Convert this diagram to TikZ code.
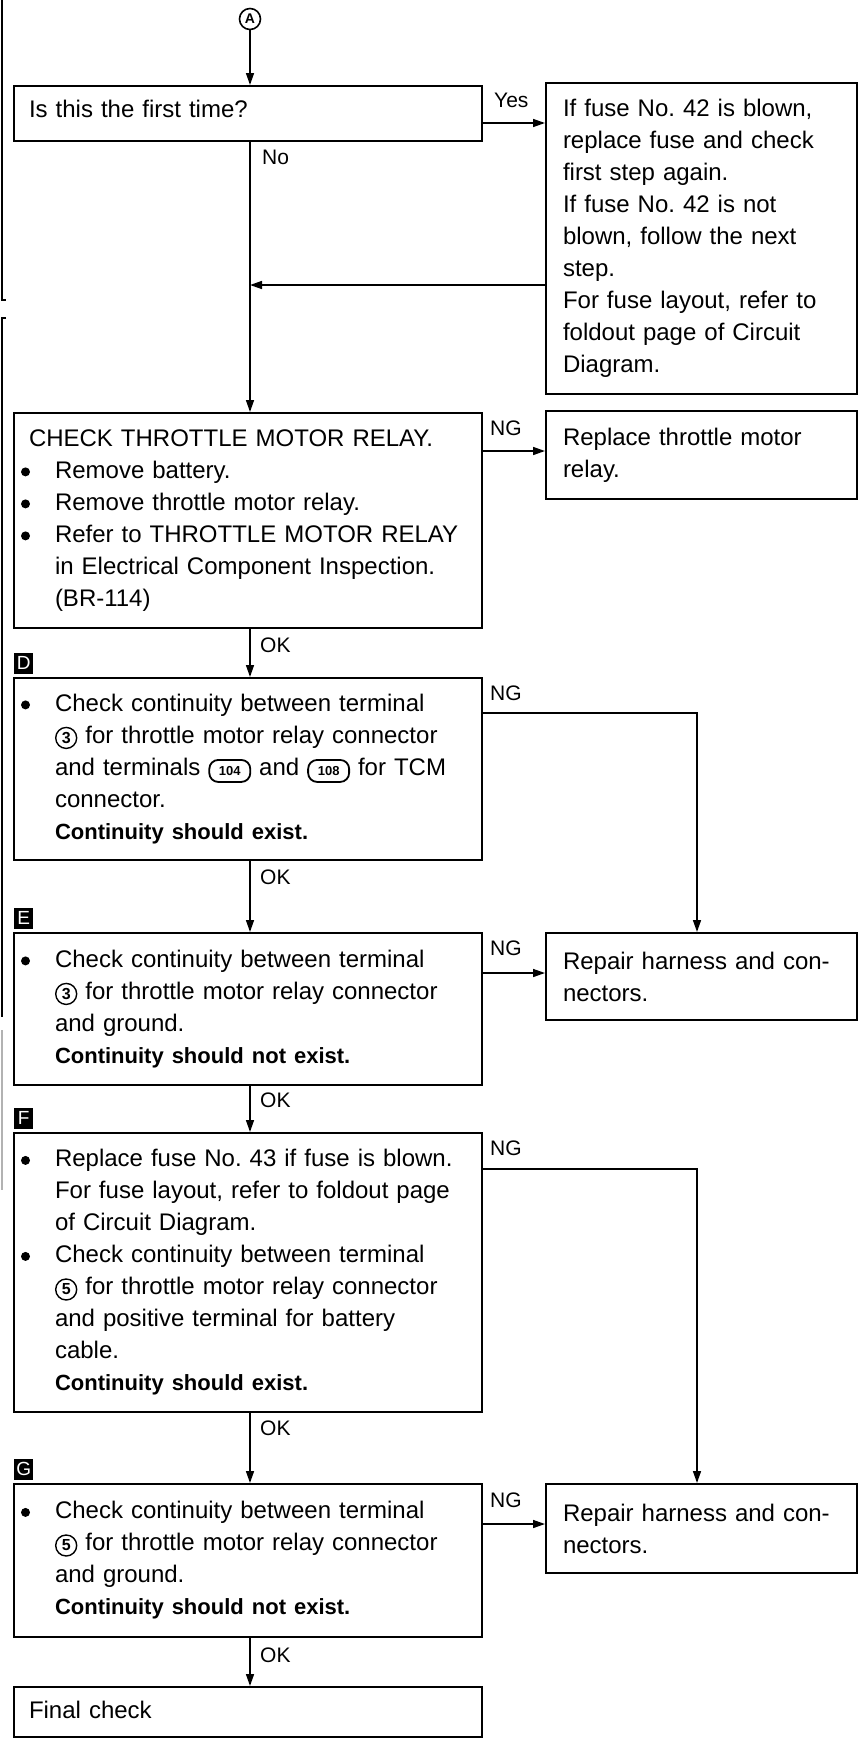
\documentclass[tikz,border=0pt]{standalone}
\usepackage{fontspec}
\setmainfont{Liberation Sans}
\usetikzlibrary{arrows.meta,calc}
\frenchspacing
\newcommand{\bul}{\hspace*{-8pt}\makebox[34pt][l]{\tikz[baseline=-6.5pt]\fill (4.5pt,0) circle (4.5pt);}}
\newcommand{\ind}{\hspace*{26pt}}
\newcommand{\bt}[1]{{\fontsize{22}{32}\selectfont\bfseries #1}}
\newcommand{\cn}[1]{\tikz[baseline=(cnn.base)]\node(cnn)[circle,draw,line width=1.4pt,inner sep=0pt,minimum size=21pt,font=\fontsize{16}{16}\selectfont\bfseries]{#1};}
\newcommand{\tn}[1]{\tikz[baseline=(tnn.base)]\node(tnn)[rectangle,rounded corners=9pt,draw,line width=1.8pt,inner xsep=2pt,inner ysep=0pt,minimum height=22pt,minimum width=41pt,font=\fontsize{13}{13}\selectfont\bfseries]{#1};}
\begin{document}
\begin{tikzpicture}[x=1pt,y=-1pt,
  box/.style={draw,line width=2pt,rectangle,inner xsep=15pt,inner ysep=0pt,align=left,
    font=\fontsize{24}{32}\selectfont,anchor=north west,text width=438pt},
  rbox/.style={draw,line width=2pt,rectangle,inner xsep=17pt,inner ysep=0pt,align=left,
    font=\fontsize{24}{32}\selectfont,anchor=north west,text width=277pt},
  arr/.style={line width=1.5pt,-{Triangle[length=12pt,width=8pt]}},
  lbl/.style={font=\fontsize{21}{21}\selectfont,anchor=west,inner sep=0pt},
  tag/.style={fill=black,text=white,font=\fontsize{19}{19}\selectfont,inner sep=0pt,
    minimum width=19pt,minimum height=21pt,anchor=south west},
  edge/.style={line width=1.5pt}]
\useasboundingbox (0,0) rectangle (861,1738);

% scan border artefacts at left
\draw[edge] (2,0) -- (2,300) -- (6,300);
\draw[edge] (6,318) -- (2,318) -- (2,1017);
\draw[line width=1.2pt,gray!60] (2,1030) -- (2,1190);

% reference coordinates
\coordinate (mx) at (250,0);
\coordinate (bx) at (697,0);

% start symbol
\node[circle,draw,line width=1.6pt,minimum size=21pt,inner sep=0pt,font=\fontsize{14}{14}\selectfont\bfseries] (cA) at (250,19) {A};

% boxes
\node[box,minimum height=55pt] (b1) at (13,85) {\raisebox{10pt}{Is this the first time?}};
\node[rbox,minimum height=311pt] (rb1) at (545,82) {If fuse No. 42 is blown,\\replace fuse and check\\first step again.\\If fuse No. 42 is not\\blown, follow the next\\step.\\For fuse layout, refer to\\foldout page of Circuit\\Diagram.};

\node[box,minimum height=215pt] (b2) at (13,412) {CHECK THROTTLE MOTOR RELAY.\\\bul Remove battery.\\\bul Remove throttle motor relay.\\\bul Refer to THROTTLE MOTOR RELAY\\\ind in Electrical Component Inspection.\\\ind (BR-114)};
\node[rbox,minimum height=88pt] (rb2) at (545,410) {Replace throttle motor\\relay.};

\node[box,minimum height=182pt] (b3) at (13,677) {\bul Check continuity between terminal\\\ind\cn{3} for throttle motor relay connector\\\ind and terminals \tn{104} and \tn{108} for TCM\\\ind connector.\\\ind\bt{Continuity should exist.}};

\node[box,minimum height=152pt] (b4) at (13,932) {\bul Check continuity between terminal\\\ind\cn{3} for throttle motor relay connector\\\ind and ground.\\\ind\bt{Continuity should not exist.}};
\node[rbox,minimum height=87pt] (rb3) at (545,932) {Repair harness and con-\\nectors.};

\node[box,minimum height=279pt] (b5) at (13,1132) {\bul Replace fuse No. 43 if fuse is blown.\\\ind For fuse layout, refer to foldout page\\\ind of Circuit Diagram.\\\bul Check continuity between terminal\\\ind\cn{5} for throttle motor relay connector\\\ind and positive terminal for battery\\\ind cable.\\\ind\bt{Continuity should exist.}};

\node[box,minimum height=153pt] (b6) at (13,1483) {\bul Check continuity between terminal\\\ind\cn{5} for throttle motor relay connector\\\ind and ground.\\\ind\bt{Continuity should not exist.}};
\node[rbox,minimum height=89pt] (rb4) at (545,1483) {Repair harness and con-\\nectors.};

\node[box,minimum height=50pt] (b7) at (13,1686) {\raisebox{4pt}{Final check}};

% step tags
\node[tag] (tD) at (14,674) {D};
\node[tag] (tE) at (14,929) {E};
\node[tag] (tF) at (14,1129) {F};
\node[tag] (tG) at (14,1480) {G};

% branch labels
\node[lbl] (lYes) at (494,100) {Yes};
\node[lbl] (lNo) at (262,157) {No};
\node[lbl] (lN1) at (490,428) {NG};
\node[lbl] (lO1) at (260,645) {OK};
\node[lbl] (lN2) at (490,693) {NG};
\node[lbl] (lO2) at (260,877) {OK};
\node[lbl] (lN3) at (490,948) {NG};
\node[lbl] (lO3) at (260,1100) {OK};
\node[lbl] (lN4) at (490,1148) {NG};
\node[lbl] (lO4) at (260,1428) {OK};
\node[lbl] (lN5) at (490,1500) {NG};
\node[lbl] (lO5) at (260,1655) {OK};

% row heights of horizontal connectors
\coordinate (yY) at (0,123);
\coordinate (yR) at (0,285);
\coordinate (y1) at (0,451);
\coordinate (y2) at (0,713);
\coordinate (y3) at (0,973);
\coordinate (y4) at (0,1169);
\coordinate (y5) at (0,1524);

% connectors
\draw[arr] (cA) -- (b1.north -| cA);
\draw[arr] (b1.east |- yY) -- (rb1.west |- yY);
\draw[arr] (b1.south -| mx) -- (b2.north -| mx);
\draw[arr] (rb1.west |- yR) -- (mx |- yR);
\draw[arr] (b2.east |- y1) -- (rb2.west |- y1);
\draw[arr] (b2.south -| mx) -- (b3.north -| mx);
\draw[arr] (b3.east |- y2) -| (rb3.north -| bx);
\draw[arr] (b3.south -| mx) -- (b4.north -| mx);
\draw[arr] (b4.east |- y3) -- (rb3.west |- y3);
\draw[arr] (b4.south -| mx) -- (b5.north -| mx);
\draw[arr] (b5.east |- y4) -| (rb4.north -| bx);
\draw[arr] (b5.south -| mx) -- (b6.north -| mx);
\draw[arr] (b6.east |- y5) -- (rb4.west |- y5);
\draw[arr] (b6.south -| mx) -- (b7.north -| mx);
\end{tikzpicture}
\end{document}
